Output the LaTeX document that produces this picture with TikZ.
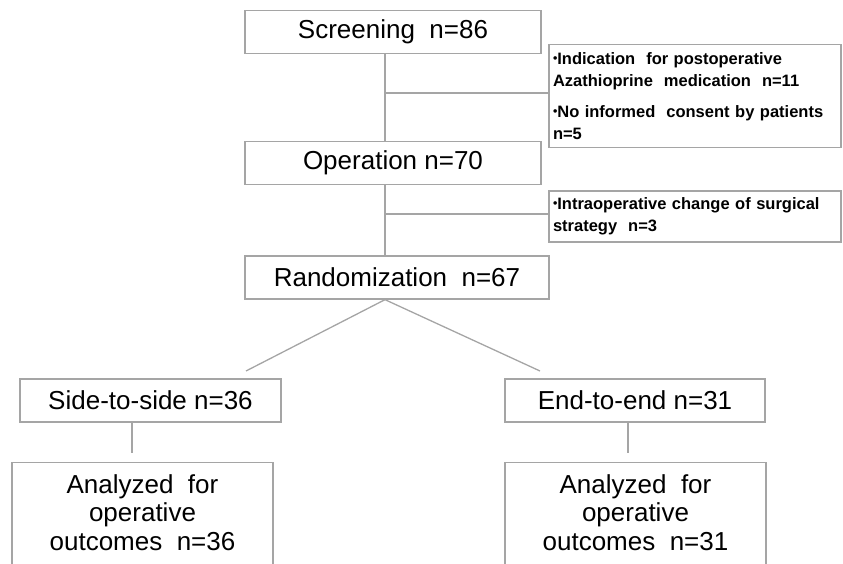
\documentclass[tikz,border=0pt]{standalone}
\usepackage{fontspec}
\setmainfont{Liberation Sans}
\definecolor{gris}{RGB}{165,165,165}
\hyphenpenalty=10000
\newcommand{\puce}{\raisebox{0.2ex}{\scalebox{0.75}{\textbullet}}}

\begin{document}
\begin{tikzpicture}[x=1pt, y=-1pt]
	\tikzset{boite/.style={draw=gris, line width=1.3pt, text centered, minimum height=43pt, inner sep=0pt, font=\fontsize{26}{28.5}\selectfont},
	exclu/.style={draw=gris, line width=1.3pt, minimum width=292pt, text width=284pt, inner xsep=4pt, inner ysep=0pt, align=left, font=\fontsize{16.5}{22}\selectfont\bfseries},
	trait/.style={draw=gris, line width=1.3pt}};

	\useasboundingbox (0,0) rectangle (843,564);
	\clip (0,0) rectangle (843,564);

	\node[boite, minimum width=296pt] (screen) at (393, 32) {Screening\ \ n=86};
	\node[boite, minimum width=296pt] (oper) at (393, 163) {Operation n=70};
	\node[boite, minimum width=304pt] (rand) at (397, 277.5) {Randomization\ \ n=67};
	\node[boite, minimum width=261pt] (side) at (150.5, 400.5) {Side-to-side n=36};
	\node[boite, minimum width=260pt] (ende) at (635, 400.5) {End-to-end n=31};

	\foreach \nom/\x/\n in {anaL/142.5/36, anaR/635.5/31}{
		\node[boite, anchor=north, minimum width=261pt, inner ysep=12pt, text depth=40pt, align=center] (\nom) at (\x, 462) {Analyzed\ \ for\\operative\\outcomes\ \ n=\n};
	}

	\node[exclu, minimum height=103pt] (excl1) at (695, 96) {\puce Indication\ \ for postoperative\\Azathioprine\ \ medication\ \ n=11\\[9pt]\puce No informed\ \ consent by patients\\n=5};
	\node[exclu, minimum height=51pt] (excl2) at (695, 216.5) {\puce Intraoperative change of surgical\\strategy\ \ n=3};

	\coordinate (spine) at (385, 0);
	\coordinate (brasG) at (246, 371);
	\coordinate (brasD) at (540, 371);

	\draw[trait] (screen.south -| spine) -- (oper.north -| spine);
	\draw[trait] (oper.south -| spine) -- (rand.north -| spine);
	\draw[trait] ([yshift=3pt]excl1.west) -- ([yshift=3pt]excl1.west -| spine);
	\draw[trait] ([yshift=2.5pt]excl2.west) -- ([yshift=2.5pt]excl2.west -| spine);
	\draw[trait] (brasG) -- (rand.south -| spine) -- (brasD);

	\foreach \haut/\bas/\x in {side/anaL/132, ende/anaR/628}{
		\draw[trait] (\haut.south -| \x,0) -- ([yshift=9pt]\bas.north -| \x,0);
	}
\end{tikzpicture}
\end{document}
